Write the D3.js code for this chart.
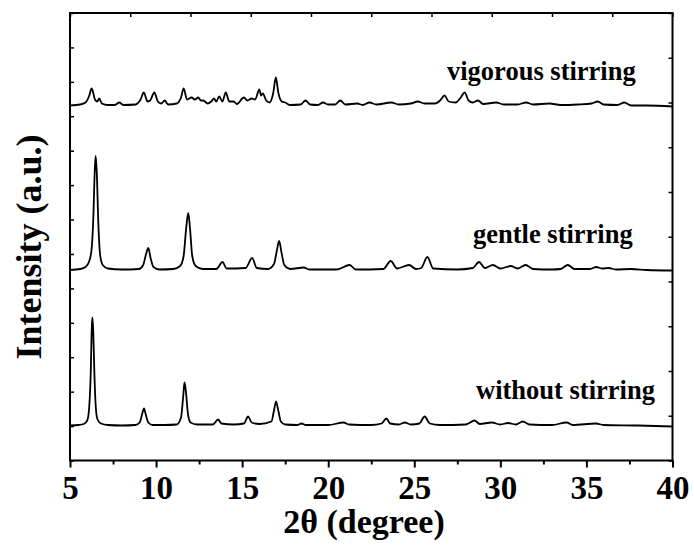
<!DOCTYPE html>
<html><head><meta charset="utf-8">
<script src="https://cdn.jsdelivr.net/npm/d3@7"></script>
<style>
body{margin:0;background:#fff}
svg{display:block}
text{font-family:'Liberation Serif','Times New Roman',Times,serif;font-weight:bold;fill:#000}
</style>
</head><body>
<script>
// ---- data (2θ in degrees, intensity in arbitrary units above each pattern's own baseline) ----
const xTickValues = [5, 10, 15, 20, 25, 30, 35, 40];
const xMinorTickValues = [7.5, 12.5, 17.5, 22.5, 27.5, 32.5, 37.5];
const sampleLabels = ["without stirring", "gentle stirring", "vigorous stirring"];
const sampleOffsets = [35, 190.5, 355];

const withoutT = [5.0,5.5,5.8,6.0,6.1,6.2,6.27,6.3,6.35,6.42,6.5,6.6,6.8,7.2,8.0,8.8,9.05,9.2,9.3,9.4,9.55,9.8,10.5,11.2,11.45,11.58,11.65,11.72,11.85,12.0,12.4,13.3,13.6,13.8,14.5,15.1,15.35,15.55,16.0,16.7,16.85,16.97,17.1,17.25,17.5,18.2,18.45,18.7,20.0,20.9,21.2,22.5,23.1,23.38,23.6,24.1,24.45,24.8,25.3,25.6,25.9,26.5,28.0,28.5,28.8,29.5,30.0,30.45,30.9,31.3,31.7,33.0,33.85,34.2,35.55,36.0,38.0,40.0];
const withoutI = [0,0.5,1.5,5,15,50,100,108,95,50,18,6,2,0.5,0,0.5,3,12,17,11,3,0.5,0.5,1,8,30,43,36,12,3,1,1,6,2,1,2,9,3,1.5,4,15,24,15,4,1,0.5,2,0.5,0.5,3,1,0.5,2,7,2,1,3,1,2,9,2,0.5,1,5,1.5,3,1,2.5,1,4,1,0.5,3,0.5,2,0.5,0,-1];

const gentleT = [5.0,5.6,5.9,6.1,6.25,6.35,6.44,6.49,6.55,6.65,6.75,6.9,7.2,8.0,9.0,9.25,9.42,9.55,9.68,9.85,10.2,11.0,11.4,11.6,11.75,11.87,11.97,12.1,12.3,12.7,13.5,13.86,14.1,15.2,15.58,15.85,16.5,16.85,17.0,17.15,17.28,17.45,17.8,18.58,18.9,20.5,21.25,21.6,23.2,23.63,24.0,24.7,25.1,25.4,25.76,26.1,27.5,28.4,28.76,29.1,29.57,30.0,30.6,31.0,31.47,31.9,33.0,33.5,33.92,34.3,35.2,35.57,35.9,36.3,36.7,37.6,38.5,40.0];
const gentleI = [0,1,3,8,20,50,100,114,100,45,15,5,1.5,0.5,1,5,16,22,12,3,0.5,1,4,14,42,57,42,14,4,1,1,8,1.5,2,12,2,1,6,18,29,18,5,1,2.5,0.5,0.5,5,0.5,1,9,1.5,5,1,2,13,1.5,0.5,2,8,2,5,1.5,4,1.5,5,1,0.5,1,5,1,1,3,1.5,2,0.5,1,0,-0.5];

const vigorousT = [5.0,5.6,5.9,6.1,6.26,6.45,6.58,6.7,6.85,7.2,7.6,7.86,8.1,8.8,9.1,9.29,9.5,9.65,9.9,10.1,10.3,10.5,10.7,11.2,11.45,11.6,11.8,12.06,12.25,12.45,12.6,12.74,13.0,13.2,13.36,13.5,13.67,13.85,14.05,14.25,14.5,14.7,15.1,15.3,15.55,15.75,16.0,16.1,16.2,16.4,16.6,16.8,16.96,17.1,17.3,17.5,17.8,18.4,18.68,18.95,19.4,19.7,20.0,20.4,20.7,21.0,21.7,22.0,22.4,22.8,23.67,24.1,24.8,25.2,25.6,26.2,26.5,26.76,27.0,27.4,27.7,27.93,28.15,28.4,28.7,29.0,29.76,30.2,31.0,31.5,31.9,32.86,33.5,34.5,35.3,35.66,36.0,36.8,37.2,37.6,38.5,40.0];
const vigorousI = [0,1,3,9,17,6,4,7,2,0.5,0.5,3,0.5,1,6,13,4,5,13,4,2,5,1,2,8,17,6,8,6,8,5,5,2,4,7,4,9,4,13,4,4,1.5,8,5,7,6,16,10,12,5,3,12,28,13,4,3,0.5,1,5,1,0.5,3,1,1,5,1,2,0.5,3,1,3,1,2,4,2,2,5,10,4,3,8,13,5,3,5,1.5,3,1,1,3,1,2,0.5,1,2,4,1,0.5,3,0,0,-1];

const patterns = [
  {t: withoutT, i: withoutI},
  {t: gentleT, i: gentleI},
  {t: vigorousT, i: vigorousI}
];

// ---- layout ----
const W = 694, H = 552;
const plot = {l: 70, r: 672.5, t: 13, b: 460.5};

const svg = d3.select("body").append("svg").attr("width", W).attr("height", H);

const x = d3.scaleLinear().domain([5, 40]).range([plot.l, plot.r]);
const y = d3.scaleLinear().domain([0, 447.5]).range([plot.b, plot.t]);

const line = d3.line()
  .x(d => x(d[0]))
  .y(d => y(d[1]))
  .curve(d3.curveMonotoneX);

patterns.forEach((p, k) => {
  const pts = p.t.map((t, j) => [t, p.i[j] + sampleOffsets[k]]);
  svg.append("path")
    .attr("d", line(pts))
    .attr("fill", "none")
    .attr("stroke", "#000")
    .attr("stroke-width", 1.8)
    .attr("stroke-linejoin", "round");
});

svg.append("rect")
  .attr("x", plot.l).attr("y", plot.t)
  .attr("width", plot.r - plot.l).attr("height", plot.b - plot.t)
  .attr("fill", "none").attr("stroke", "#000").attr("stroke-width", 2);

const gx = svg.append("g").attr("transform", `translate(0,${plot.b})`)
  .call(d3.axisBottom(x).tickValues(xTickValues).tickSizeInner(7).tickSizeOuter(0).tickPadding(8));
gx.select(".domain").remove();
gx.selectAll(".tick line").attr("stroke-width", 2);
gx.selectAll(".tick text").attr("font-family", null).attr("font-size", null)
  .style("font-size", "33px");

const gxm = svg.append("g").attr("transform", `translate(0,${plot.b})`)
  .call(d3.axisBottom(x).tickValues(xMinorTickValues).tickSize(4).tickFormat(""));
gxm.select(".domain").remove();
gxm.selectAll(".tick line").attr("stroke-width", 2);

const yLeft = d3.scaleLinear().domain([0, 13]).range([plot.b, plot.t]);
const gl = svg.append("g").attr("transform", `translate(${plot.l},0)`)
  .call(d3.axisLeft(yLeft).ticks(13).tickSize(-4).tickFormat(""));
gl.select(".domain").remove();
gl.selectAll(".tick line").attr("stroke-width", 1.5);

const yRight = d3.scaleLinear().domain([0, 10]).range([plot.b, plot.t]);
const gr = svg.append("g").attr("transform", `translate(${plot.r},0)`)
  .call(d3.axisRight(yRight).ticks(10).tickSize(-4).tickFormat(""));
gr.select(".domain").remove();
gr.selectAll(".tick line").attr("stroke-width", 1.5);

const xTop = d3.scaleLinear().domain([0, 10]).range([plot.l, plot.r]);
const gt = svg.append("g").attr("transform", `translate(0,${plot.t})`)
  .call(d3.axisTop(xTop).ticks(10).tickSize(-4).tickFormat(""));
gt.select(".domain").remove();
gt.selectAll(".tick line").attr("stroke-width", 1.5);

svg.append("text")
  .attr("x", 364).attr("y", 533)
  .attr("text-anchor", "middle")
  .style("font-size", "34px")
  .text("2θ (degree)");

svg.append("text")
  .attr("transform", "translate(41,247) rotate(-90)")
  .attr("text-anchor", "middle")
  .style("font-size", "36px")
  .text("Intensity (a.u.)");

const labelPos = [[476, 399], [473, 243], [447, 80]];
sampleLabels.forEach((s, k) => {
  svg.append("text")
    .attr("x", labelPos[k][0]).attr("y", labelPos[k][1])
    .style("font-size", "26.5px")
    .text(s);
});
</script>
</body></html>
